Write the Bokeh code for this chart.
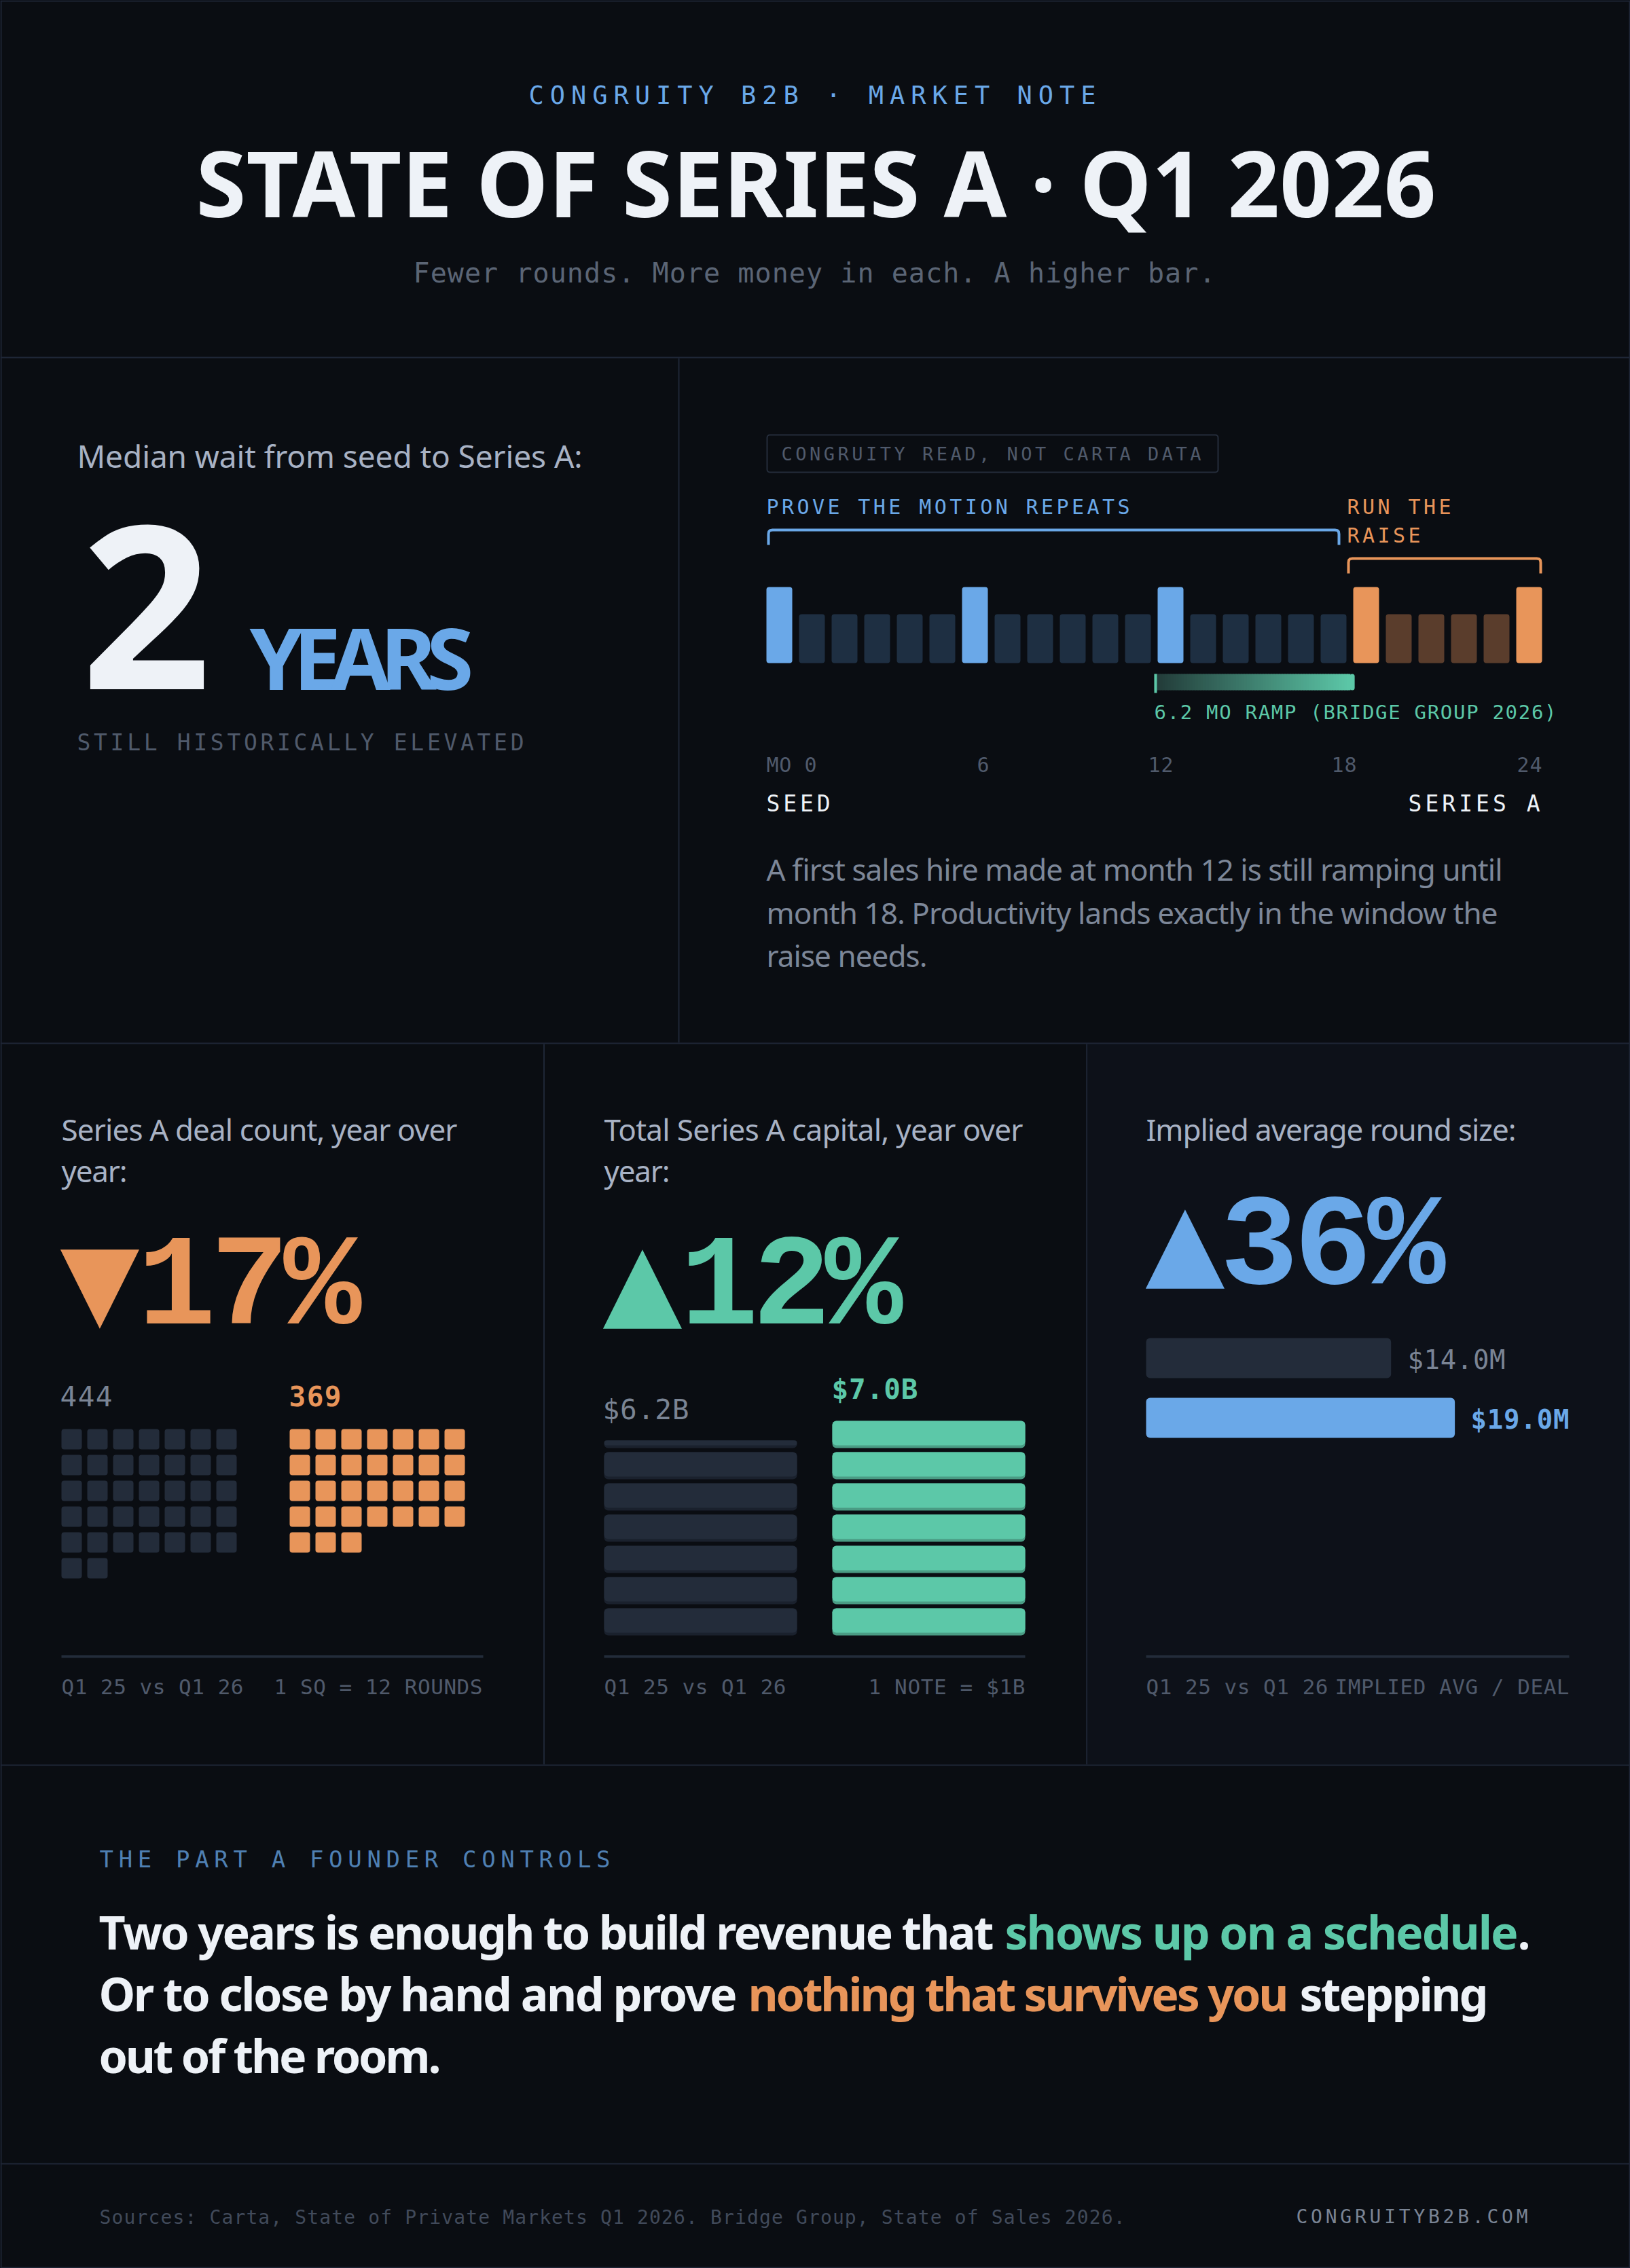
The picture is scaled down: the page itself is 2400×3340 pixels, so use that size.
from bokeh.core.properties import value
from bokeh.document import Document
from bokeh.embed import file_html
from bokeh.models import CustomJS, Range1d
from bokeh.plotting import figure
from bokeh.resources import INLINE

# 24 months from seed to Series A: 1 = milestone month (tall bar)
month_tall = [1, 0, 0, 0, 0, 0, 1, 0, 0, 0, 0, 0, 1, 0, 0, 0, 0, 0, 1, 0, 0, 0, 0, 1]
month_raise = [0, 0, 0, 0, 0, 0, 0, 0, 0, 0, 0, 0, 0, 0, 0, 0, 0, 0, 1, 1, 1, 1, 1, 1]
month_ticks = ["MO 0", "6", "12", "18", "24"]
ramp_start_month = 12
ramp_months = 6.2

deal_counts = [444, 369]
rounds_per_square = 12
capital_billions = [6.2, 7.0]
round_size_millions = [14.0, 19.0]

# ## Styles

BG = "#0a0d12"
PANEL = "#0d1119"
LINE = "#1e2636"
INK = "#eef2f7"
SOFT = "#a8b2c4"
BODY = "#7d8798"
BLUE = "#6aa8e8"
BLUE_DIM = "#4f80b3"
ORANGE = "#e8955a"
GREEN = "#5cc8a8"
GREY = "#505a6b"
MID = "#7a8494"
DARK = "#232c3a"
FAINT = "#414a5a"

SANS = "Noto Sans"
MONO = "DejaVu Sans Mono"
DELTA = "Liberation Mono"

p = figure(width=2400, height=3340, x_range=Range1d(0, 2400), y_range=Range1d(3340, 0),
           x_axis_location=None, y_axis_location=None, toolbar_location=None,
           output_backend="svg", min_border=0)
p.grid.visible = False
p.outline_line_color = None
p.background_fill_color = BG
p.border_fill_color = BG

placed = []


def box(x0, x1, y0, y1, color, radius=0):
    p.quad(left=[x0], right=[x1], top=[y0], bottom=[y1], fill_color=color, line_color=None,
           border_radius=radius)


def label(s, x, y, size, color, font=SANS, bold=False, width=None):
    p.text([x], [y], text=[s], text_font=value(font), text_font_size=f"{size}px", text_color=color,
           text_font_style="bold" if bold else "normal", text_baseline="alphabetic", text_align="left")
    placed.append(dict(text=s, x=x, y=y, width=width))


def bracket(x0, x1, y0, y1, color, r=8):
    # squared-off bracket with rounded shoulders
    xs = [x0 + 2, x0 + 2, x0 + 2.6, x0 + 4.3, x0 + r, x1 - r, x1 - 4.3, x1 - 2.6, x1 - 2, x1 - 2]
    ys = [y1, y0 + r, y0 + 4.3, y0 + 2.6, y0 + 2, y0 + 2, y0 + 2.6, y0 + 4.3, y0 + r, y1]
    p.line(xs, ys, line_color=color, line_width=4, line_join="round")


# ## Panels and rules

box(1601, 2400, 1537, 2598, PANEL)
for y in [0, 525, 1535, 2598, 3185, 3338]:
    box(0, 2400, y, y + 2, LINE)
box(0, 2, 0, 3340, LINE)
box(2398, 2400, 0, 3340, LINE)
box(998, 1000, 527, 1535, LINE)
box(799.5, 801.5, 1537, 2598, LINE)
box(1598.7, 1600.7, 1537, 2598, LINE)

# ## Header

label("CONGRUITY B2B · MARKET NOTE", 778, 153, 37, BLUE, MONO, width=835)
label("STATE OF SERIES A · Q1 2026", 288, 320, 134, INK, SANS, True, width=1826)
label("Fewer rounds. More money in each. A higher bar.", 608, 416, 40, "#5b6575", MONO, width=1181)

# ## Two years

label("Median wait from seed to Series A:", 113, 689, 46, SOFT, width=744)
label("2", 119, 1015, 335, INK, SANS, True)
label("YEARS", 367, 1016, 126, BLUE, SANS, True, width=330)
label("STILL HISTORICALLY ELEVATED", 113, 1105, 33, GREY, MONO, width=658)

# ## Timeline

p.quad(left=[1129], right=[1793], top=[640], bottom=[695], fill_color=None, line_color="#252d3b", line_width=2,
       border_radius=4)
label("CONGRUITY READ, NOT CARTA DATA", 1150, 678, 27, GREY, MONO, width=618)
label("PROVE THE MOTION REPEATS", 1128, 757, 30, BLUE, MONO, width=535)
label("RUN THE", 1983, 757, 30, ORANGE, MONO, width=153)
label("RAISE", 1983, 799, 30, ORANGE, MONO, width=108)
bracket(1129, 1973, 778, 802, BLUE)
bracket(1983, 2270, 820, 844, ORANGE)

bar_w = 38
bar_step = 48
for month, (tall, raising) in enumerate(zip(month_tall, month_raise)):
    x0 = 1128 + month * bar_step
    hot = ORANGE if raising else BLUE
    cold = "#5a3d2c" if raising else "#1e2f42"
    box(x0, x0 + bar_w, 864 if tall else 904, 976, hot if tall else cold, 4)

# 6.2 month ramp, faded from the hire month up to full productivity
ramp_x0 = 1128 + ramp_start_month * bar_step - 5
ramp_x1 = ramp_x0 + ramp_months * 47.6
c0 = (34, 58, 56)
c1 = (92, 200, 168)
n = int((ramp_x1 - ramp_x0) / 4)
for i in range(n):
    t = i / (n - 1)
    rgb = tuple(int(round(a + (b - a) * t)) for a, b in zip(c0, c1))
    xa = ramp_x0 + i * 4
    if i == n - 1:
        box(xa, ramp_x1, 992, 1016, "#%02x%02x%02x" % rgb, 4)
    else:
        box(xa, xa + 5, 992, 1016, "#%02x%02x%02x" % rgb)
box(ramp_x0, ramp_x0 + 4, 992, 1020, GREEN)
label("6.2 MO RAMP (BRIDGE GROUP 2026)", 1699, 1059, 29, GREEN, MONO, width=592)

tick_x = [1128, 1438, 1690, 1960, 2233]
tick_w = [74, 18, 37, 37, 37]
for s, x, w in zip(month_ticks, tick_x, tick_w):
    label(s, x, 1137, 30, GREY, MONO, width=w)
label("SEED", 1128, 1195, 33, INK, MONO, width=94)
label("SERIES A", 2073, 1195, 33, INK, MONO, width=194)

label("A first sales hire made at month 12 is still ramping until", 1128, 1297, 44, BODY, width=1084)
label("month 18. Productivity lands exactly in the window the", 1128, 1361, 44, BODY, width=1077)
label("raise needs.", 1128, 1424, 44, BODY, width=237)

# ## Deal count

label("Series A deal count, year over", 90, 1680, 44, SOFT, width=583)
label("year:", 90, 1741, 44, SOFT, width=97)
label("▼", 88, 1938, 152, ORANGE, "DejaVu Sans")
label("17%", 202, 1949, 192, ORANGE, DELTA, True, width=330)
label(str(deal_counts[0]), 88, 2071, 41, MID, MONO, width=77)
label(str(deal_counts[1]), 425, 2071, 41, ORANGE, MONO, True, width=77)

for x0, count, color in [(90, deal_counts[0], DARK), (426, deal_counts[1], ORANGE)]:
    squares = -(-count // rounds_per_square)
    for i in range(squares):
        col, row = i % 7, i // 7
        box(x0 + col * 38, x0 + col * 38 + 30, 2104 + row * 38, 2134 + row * 38, color, 4)

# ## Capital

label("Total Series A capital, year over", 889, 1680, 44, SOFT, width=617)
label("year:", 889, 1741, 44, SOFT, width=97)
label("▲", 887, 1938, 152, GREEN, "DejaVu Sans")
label("12%", 1001, 1949, 192, GREEN, DELTA, True, width=328)
label(f"${capital_billions[0]:.1f}B", 887, 2090, 41, MID, MONO, width=127)
label(f"${capital_billions[1]:.1f}B", 1224, 2060, 41, GREEN, MONO, True, width=127)

for x0, billions, color, lip in [(889, capital_billions[0], DARK, "#1a212d"), (1225, capital_billions[1], GREEN, "#4a9c84")]:
    left = billions
    slot = 0
    while left > 0:
        frac = min(left, 1.0)
        bottom = 2408 - slot * 46
        h = 40 if frac == 1.0 else 4 + frac * 36
        box(x0, x0 + 284, bottom - h, bottom, lip, 6)
        box(x0, x0 + 284, bottom - h, bottom - 4, color, 6)
        left = round(left - frac, 3)
        slot += 1

# ## Round size

label("Implied average round size:", 1687, 1680, 44, SOFT, width=545)
label("▲", 1686, 1879, 152, BLUE, "DejaVu Sans")
label("36%", 1796, 1890, 192, BLUE, DELTA, True, width=332)

# bar lengths are not quite proportional in the note, so keep its own offset
bar_len = [97.8 + 18.78 * v for v in round_size_millions]
box(1687, 1687 + bar_len[0], 1970, 2029, DARK, 6)
box(1687, 1687 + bar_len[1], 2058, 2117, BLUE, 6)
label(f"${round_size_millions[0]:.1f}M", 2072, 2016, 39, MID, MONO, width=144)
label(f"${round_size_millions[1]:.1f}M", 2165, 2104, 39, BLUE, MONO, True, width=145)

# ## Panel footers

for x0, x1 in [(90, 711), (889, 1509), (1687, 2310)]:
    box(x0, x1, 2437, 2441, DARK)
    label("Q1 25 vs Q1 26", x0, 2495, 31, GREY, MONO, width=268)
label("1 SQ = 12 ROUNDS", 403, 2495, 31, GREY, MONO, width=307)
label("1 NOTE = $1B", 1278, 2495, 31, GREY, MONO, width=231)
label("IMPLIED AVG / DEAL", 1965, 2495, 31, GREY, MONO, width=345)

# ## Closing statement

label("THE PART A FOUNDER CONTROLS", 146, 2750, 34, BLUE_DIM, MONO, width=752)
label("Two years is enough to build revenue that", 145, 2871, 68, INK, SANS, True, width=1318)
label("shows up on a schedule", 1479, 2871, 68, GREEN, SANS, True, width=756)
label(".", 2234, 2871, 68, INK, SANS, True)
label("Or to close by hand and prove", 145, 2962, 68, INK, SANS, True, width=940)
label("nothing that survives you", 1101, 2962, 68, ORANGE, SANS, True, width=796)
label("stepping", 1913, 2962, 68, INK, SANS, True, width=278)
label("out of the room.", 145, 3053, 68, INK, SANS, True, width=504)

# ## Footer

label("Sources: Carta, State of Private Markets Q1 2026. Bridge Group, State of Sales 2026.", 146, 3275, 28, FAINT, MONO, width=1510)
label("CONGRUITYB2B.COM", 1908, 3274, 28, MID, MONO, width=341)

# a text glyph has no tracking and its baseline sits off by a font-dependent amount,
# so pin each SVG text to its baseline and width once it is on the page.
# texts carry their spot in a transform, so go through getCTM
doc = Document()
doc.add_root(p)
doc.js_on_event("document_ready", CustomJS(args=dict(placed=placed, bg=BG), code="""
    document.documentElement.style.background = bg
    document.body.style.background = bg
    function walk(node, out) {
        node.querySelectorAll("*").forEach((el) => {
            if (el.tagName == "text") out.push(el)
            if (el.shadowRoot) walk(el.shadowRoot, out)
        })
        return out
    }
    function apply() {
        for (const t of walk(document, [])) {
            const m = t.getCTM()
            if (m == null) continue
            const x = m.e + parseFloat(t.getAttribute("x") || "0")
            const spot = placed.find((s) => s.text == t.textContent && Math.abs(s.x - x) < 3)
            if (spot == null) continue
            t.setAttribute("y", spot.y - m.f)
            if (spot.width != null) {
                t.setAttribute("textLength", spot.width)
                t.setAttribute("lengthAdjust", "spacing")
            }
        }
    }
    for (const ms of [0, 100, 300, 600, 1000, 2000]) setTimeout(apply, ms)
"""))

open("out.html", "w").write(file_html(p, INLINE))
